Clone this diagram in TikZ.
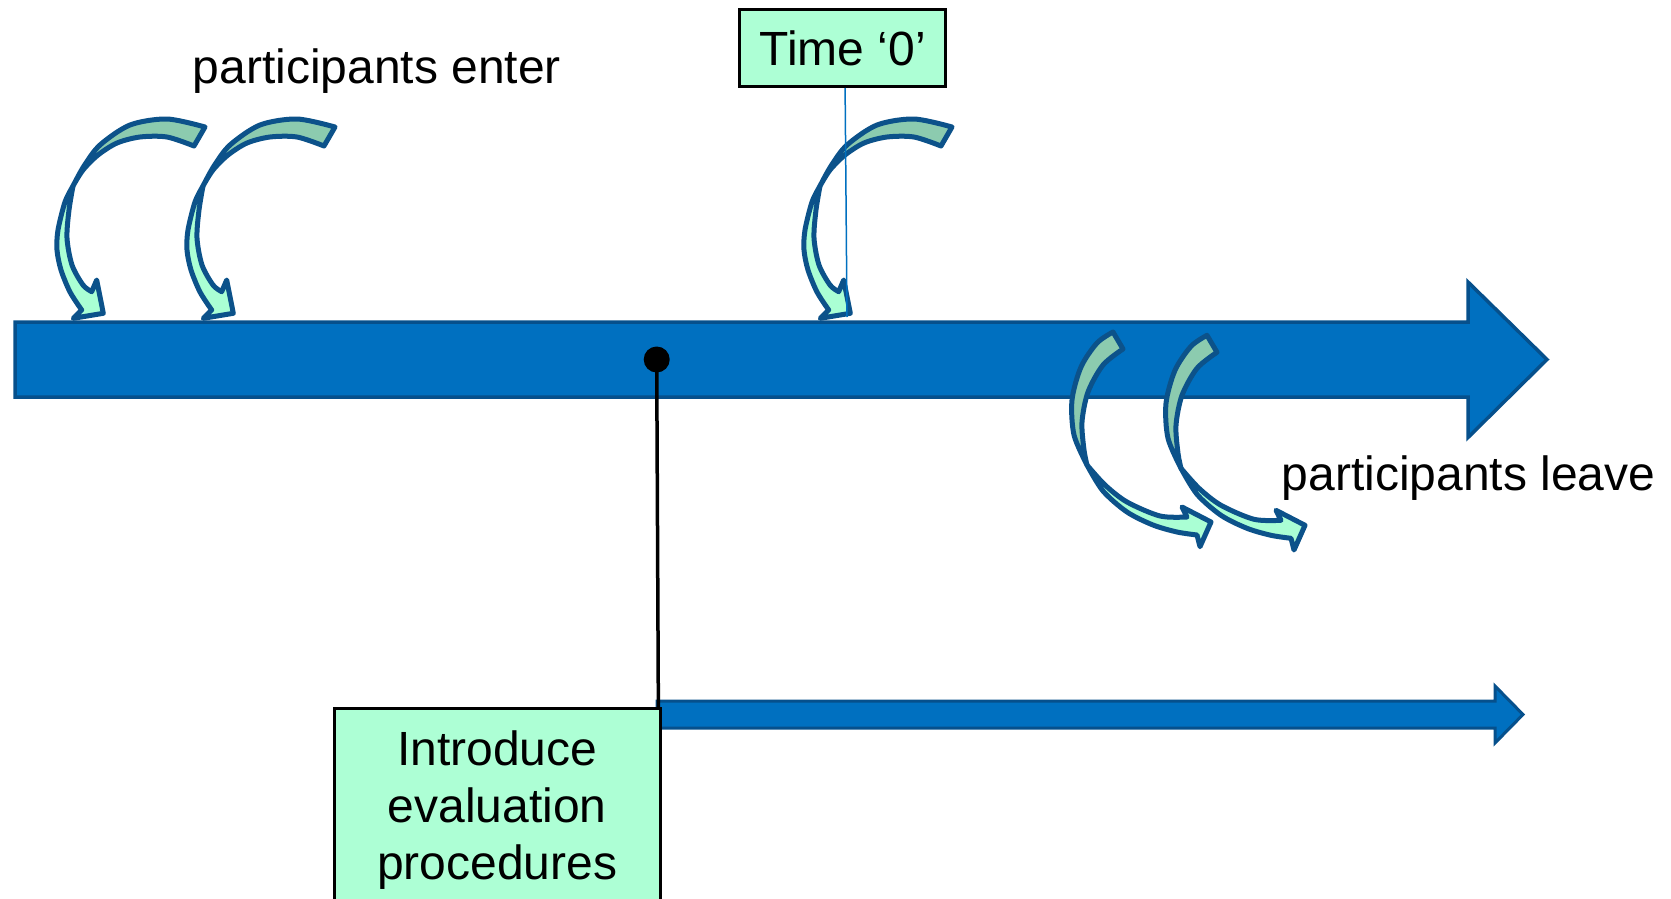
\documentclass[tikz,border=0pt]{standalone}
\usepackage{fontspec}
\setmainfont{Liberation Sans}
\definecolor{barfill}{RGB}{0,112,192}
\definecolor{barline}{RGB}{6,80,140}
\definecolor{arrline}{RGB}{12,82,138}
\definecolor{backg}{RGB}{140,203,175}
\definecolor{frontg}{RGB}{170,255,212}
\definecolor{boxg}{RGB}{173,255,213}
\definecolor{thinblue}{RGB}{0,112,192}
\tikzset{
  txt/.style={font=\fontsize{48}{57}\selectfont, inner sep=0pt},
  bigarrow/.style={fill=barfill, draw=barline, line width=3.5pt, line join=miter},
  backband/.style={fill=backg, draw=arrline, line width=5pt, line join=round},
  frontband/.style={fill=frontg, draw=arrline, line width=5pt, line join=round},
  labelbox/.style={fill=boxg, draw=black, line width=3pt, font=\fontsize{48}{57}\selectfont},
  enterarr/.pic={
    \filldraw[backband] plot[smooth] coordinates {(205,127)(167,119)(130,125)(100,145)(84,166)(73,186)}
      -- plot[smooth] coordinates {(73,186)(83,170)(98,155)(117,143)(140,137)(167,137)(194,146)} -- cycle;
    \filldraw[frontband] plot[smooth] coordinates {(73,186)(65,202)(58,230)(57,250)(61,270)(70,292)(81.7,310)}
      -- (73.3,318.3) -- (103.3,313.3) -- (96.7,280) -- (91.7,291.7)
      -- plot[smooth] coordinates {(91.7,291.7)(83,285)(72,265)(67,238)(69,210)(73,186)} -- cycle;
  },
  leavearr/.pic={
    \filldraw[backband] plot[smooth] coordinates {(1113,332)(1097,343)(1081,367)(1072,400)(1074,435)(1087,465)}
      -- plot[smooth] coordinates {(1087,465)(1084,450)(1082,422)(1088,392)(1103,365)(1123,349)} -- cycle;
    \filldraw[frontband] plot[smooth] coordinates {(1087,465)(1103,491)(1127,512)(1153,525)(1177,532)(1197,535)}
      -- (1200,546.7) -- (1211,522) -- (1182,507) -- (1187,517)
      -- plot[smooth] coordinates {(1187,517)(1160,516)(1127,502)(1105,485)(1087,465)} -- cycle;
  }
}
\begin{document}
\begin{tikzpicture}[x=1pt,y=-1pt]
\useasboundingbox (0,0) rectangle (1671,899);
\fill[white] (0,0) rectangle (1671,899);
\clip (0,0) rectangle (1671,899);

% main timeline arrow
\draw[bigarrow] (15,322) -- (1468,322) -- (1468,282) -- (1547,359.5) -- (1468,437.5) -- (1468,397) -- (15,397) -- cycle;

% participants enter
\pic at (0,0) {enterarr};
\pic at (130,0) {enterarr};
\pic at (747,0) {enterarr};

% participants leave
\pic at (0,0) {leavearr};
\pic at (94,3.3) {leavearr};

% Time 0 box and its pointer
\node[labelbox, minimum width=206pt, minimum height=77pt, inner sep=0pt] (time) at (842.6,48) {Time ‘0’};
\coordinate (t0) at (847,317);
\draw[thinblue, line width=1.5pt] ([xshift=2.5pt]time.south) -- (t0);

% lower arrow
\draw[bigarrow, line width=3pt] (657,701) -- (1495,701) -- (1495,686) -- (1523,714.5) -- (1495,743) -- (1495,728) -- (657,728) -- cycle;

% dot and stem
\node[circle, fill=black, minimum size=26pt, inner sep=0pt] (dot) at (656.7,359.5) {};
\coordinate (stemend) at (658.5,737);
\draw[line width=3.5pt] (dot.center) -- (stemend);

% evaluation box
\node[labelbox, anchor=north west, inner xsep=10pt, inner ysep=22pt, text width=305.5pt, align=center] (intro) at (333,707) {Introduce\\evaluation\\procedures};

% labels
\node[txt, anchor=base] (enter) at (376.8,84) {participants enter};
\node[txt, anchor=base] (leave) at (1468.5,490) {participants leave};
\end{tikzpicture}
\end{document}
